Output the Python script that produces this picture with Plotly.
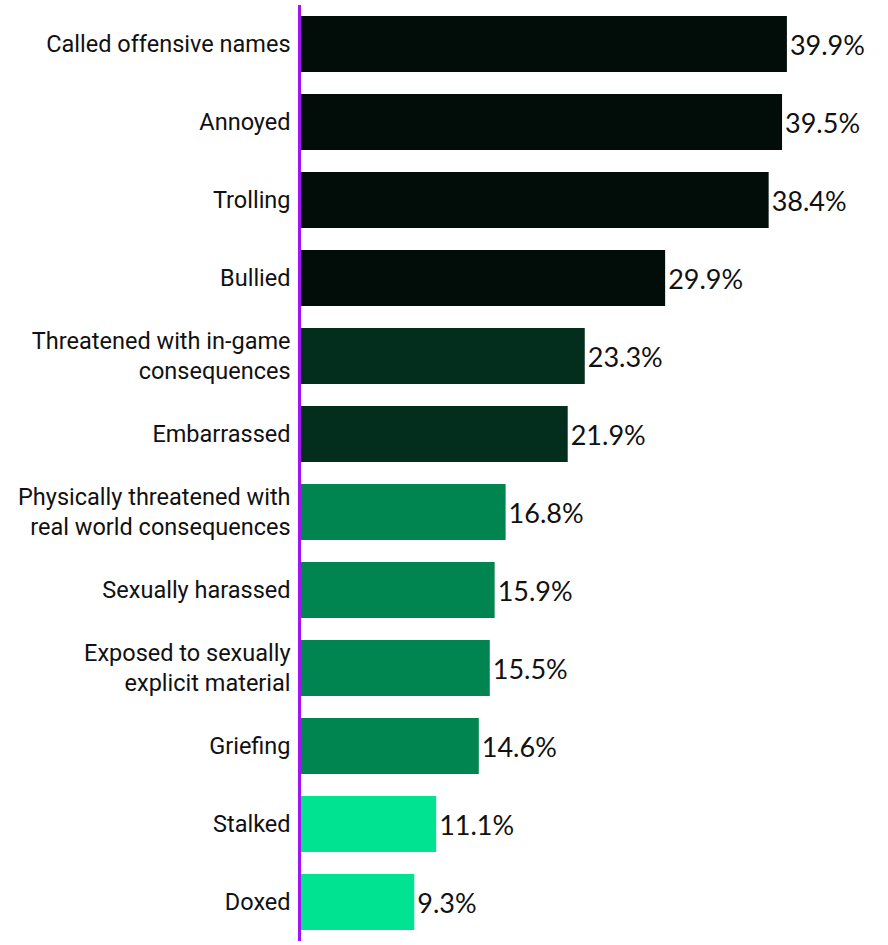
import plotly.graph_objects as go

categories = [
    "Called offensive names",
    "Annoyed",
    "Trolling",
    "Bullied",
    "Threatened with in-game<br>consequences",
    "Embarrassed",
    "Physically threatened with<br>real world consequences",
    "Sexually harassed",
    "Exposed to sexually<br>explicit material",
    "Griefing",
    "Stalked",
    "Doxed",
]
values = [39.9, 39.5, 38.4, 29.9, 23.3, 21.9, 16.8, 15.9, 15.5, 14.6, 11.1, 9.3]
bar_colors = [
    "#020d0a", "#020d0a", "#020d0a", "#020d0a",
    "#032e1e", "#032e1e",
    "#008450", "#008450", "#008450", "#008450",
    "#00e391", "#00e391",
]
value_labels = [f"{v:.1f}%" for v in values]

fig = go.Figure(
    go.Bar(
        x=values,
        y=categories,
        orientation="h",
        marker=dict(color=bar_colors, line=dict(width=0)),
        text=value_labels,
        textposition="outside",
        textfont=dict(family="Lato", size=27, color="#111111"),
        cliponaxis=False,
    )
)

fig.update_layout(
    width=888,
    height=945,
    margin=dict(l=301, r=0, t=5, b=4),
    paper_bgcolor="white",
    plot_bgcolor="white",
    bargap=0.282,
    showlegend=False,
    font=dict(family="Roboto", size=23.5, color="#111111"),
)
fig.update_xaxes(range=[0, 48.2], visible=False, showgrid=False, zeroline=False)
fig.update_yaxes(
    autorange="reversed",
    showline=True,
    linecolor="#a213f5",
    linewidth=2.5,
    showgrid=False,
    ticks="",
    ticklabelstandoff=3,
    tickfont=dict(family="Roboto", size=23.5, color="#111111"),
)

fig.write_html("out.html")
